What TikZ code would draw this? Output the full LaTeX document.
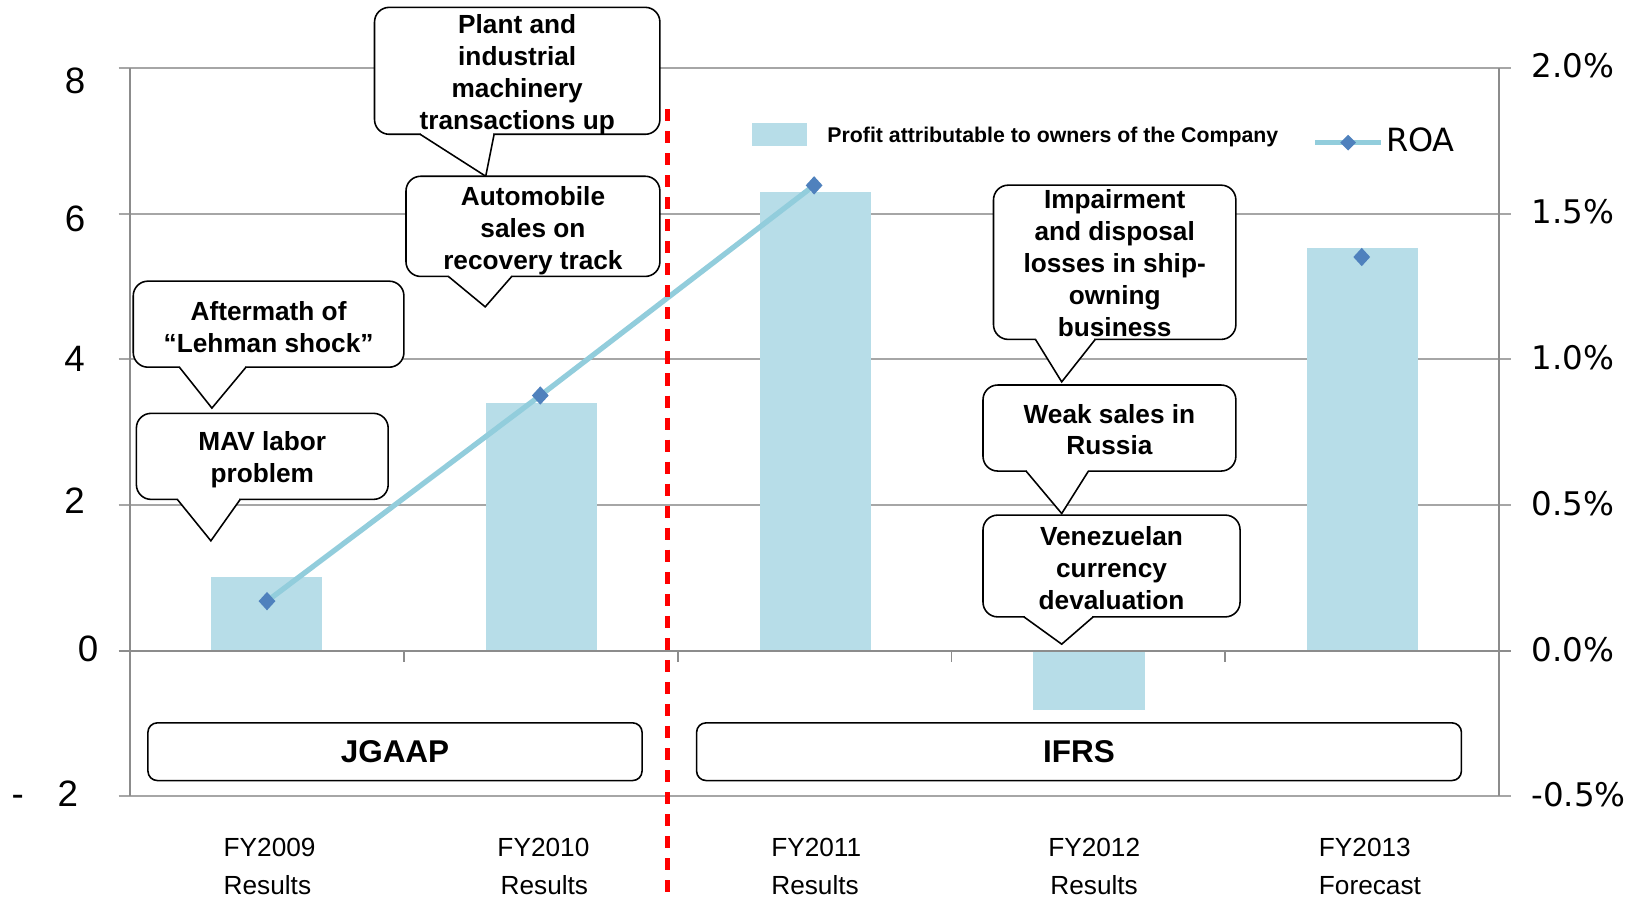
\documentclass[tikz,border=0pt]{standalone}
\usepackage{fontspec}
\setmainfont{Liberation Sans}
\newfontfamily\dvfont{DejaVu Sans}
\usetikzlibrary{calc,shapes.geometric}
\definecolor{barblue}{HTML}{B7DDE8}
\definecolor{roaline}{HTML}{92CDDC}
\definecolor{roamark}{HTML}{4F81BD}
\definecolor{gridgray}{HTML}{A6A6A6}
\definecolor{axisgray}{HTML}{8C8C8C}
\definecolor{dashred}{HTML}{FF0000}
\newcommand{\mycalloutptr}[4]{%
  \fill[white] ($(#1.south west)+(#2+0.9,-1.6)$) rectangle ($(#1.south west)+(#3-0.9,0.9)$);
  \fill[white] ($(#1.south west)+(#2,0)$) -- (#4) -- ($(#1.south west)+(#3,0)$) -- cycle;
  \draw[pointer] ($(#1.south west)+(#2,0)$) -- (#4) -- ($(#1.south west)+(#3,0)$);
}
\begin{document}
\begin{tikzpicture}[x=1pt,y=-1pt,
  gridline/.style={draw=gridgray, line width=1.8pt},
  axisline/.style={draw=axisgray, line width=1.8pt},
  callout/.style={draw=black, line width=1.5pt, fill=white, rounded corners=14pt, inner sep=0pt, outer sep=0pt},
  callouttext/.style={inner sep=0pt, align=center, font=\fontsize{25}{30.4}\selectfont\bfseries},
  pointer/.style={draw=black, line width=1.5pt, line join=miter},
  regime/.style={draw=black, line width=1.5pt, fill=white, rounded corners=9pt, inner sep=0pt, outer sep=0pt, font=\fontsize{30}{36}\selectfont\bfseries},
  roa/.style={draw=roaline, line width=5pt},
  roamarker/.style={diamond, fill=roamark, minimum width=16pt, minimum height=17.5pt, inner sep=0pt, outer sep=0pt},
  leftlab/.style={anchor=base, inner sep=0pt, font=\fontsize{35}{40}\selectfont},
  rightlab/.style={anchor=base west, inner sep=0pt, font=\dvfont\fontsize{31}{36}\selectfont},
  catlab/.style={anchor=base west, inner sep=0pt, font=\fontsize{25}{30}\selectfont},
  reddash/.style={draw=dashred, line width=4.5pt, dash pattern=on 11.5pt off 9.5pt}
]
\useasboundingbox (0,0) rectangle (1568,859);

% gridlines
\foreach \yy in {65,203.8,342.6,481.4,759}
  \draw[gridline] (113,\yy) -- (1440,\yy);

% bars
\fill[barblue] (201.5,549.7) rectangle (306.5,620.2);
\fill[barblue] (463,384) rectangle (569,620.2);
\fill[barblue] (724,182.7) rectangle (830,620.2);
\fill[barblue] (985,620.2) rectangle (1091,676.8);
\fill[barblue] (1246,236.7) rectangle (1352,620.2);

% axes
\draw[axisline] (124,65) -- (124,759);
\draw[axisline] (1429,65) -- (1429,759);
\draw[axisline] (113,620.2) -- (1440,620.2);
\foreach \xx in {385.5,646,907,1168}
  \draw[axisline] (\xx,620.2) -- (\xx,631);

% axis labels (left)
\node[leftlab] (l8) at (71.5,89) {8};
\node[leftlab] (l6) at (71.5,221) {6};
\node[leftlab] (l4) at (71,354) {4};
\node[leftlab] (l2) at (71,489) {2};
\node[leftlab] (l0) at (84,631) {0};
\node[leftlab, anchor=base west] (lm2) at (11,769) {-\hspace{32pt}2};

% axis labels (right)
\node[rightlab] (r20) at (1459.5,73.5) {2.0\%};
\node[rightlab] (r15) at (1459.5,213.5) {1.5\%};
\node[rightlab] (r10) at (1459.5,352.5) {1.0\%};
\node[rightlab] (r05) at (1459.5,491.5) {0.5\%};
\node[rightlab] (r00) at (1459.5,631) {0.0\%};
\node[rightlab] (rm05) at (1459.5,769) {-0.5\%};

% category labels
\node[catlab] (c09a) at (213,816) {FY2009};
\node[catlab] (c09b) at (213,853) {Results};
\node[catlab] (c10a) at (474,816) {FY2010};
\node[catlab] (c10b) at (477,853) {Results};
\node[catlab] (c11a) at (735,816) {FY2011};
\node[catlab] (c11b) at (735,853) {Results};
\node[catlab] (c12a) at (999,816) {FY2012};
\node[catlab] (c12b) at (1001,853) {Results};
\node[catlab] (c13a) at (1257,816) {FY2013};
\node[catlab] (c13b) at (1257,853) {Forecast};

% ROA series
\coordinate (p09) at (254.5,573);
\coordinate (p10) at (515,377);
\coordinate (p11) at (776,176.7);
\coordinate (p13) at (1298,245);
\draw[roa] (p09) -- (p10) -- (p11);
\node[roamarker] (m09) at (p09) {};
\node[roamarker] (m10) at (p10) {};
\node[roamarker] (m11) at (p11) {};
\node[roamarker] (m13) at (p13) {};

% red dashed separator
\coordinate (sepTop) at (636.5,104);
\coordinate (sepBot) at (636.5,859);
\draw[reddash] (sepTop) -- (sepBot);

% callouts
\node[callout, minimum width=272pt, minimum height=121pt] (plant) at (493,67.5) {};
\coordinate (tplant) at (463,168);
\mycalloutptr{plant}{43.5}{114}{tplant}
\node[callouttext] (plantT) at ($(plant)+(0,4)$) {Plant and\\industrial\\machinery\\transactions up};

\node[callout, minimum width=242pt, minimum height=95.5pt] (auto) at (508,215.75) {};
\coordinate (tauto) at (462.5,292.5);
\mycalloutptr{auto}{40.4}{100.8}{tauto}
\node[callouttext] (autoT) at ($(auto)+(0,4)$) {Automobile\\sales on\\recovery track};

\node[callout, minimum width=258pt, minimum height=82pt] (after) at (256,309) {};
\coordinate (tafter) at (202,389);
\mycalloutptr{after}{44}{107.5}{tafter}
\node[callouttext] (afterT) at ($(after)+(0,2.5)$) {Aftermath of\\“Lehman shock”};

\node[callout, minimum width=240pt, minimum height=82pt] (mav) at (250,435) {};
\coordinate (tmav) at (201,515.5);
\mycalloutptr{mav}{39}{99}{tmav}
\node[callouttext] (mavT) at ($(mav)+(0,3.5)$) {MAV labor\\problem};

\node[callout, minimum width=231pt, minimum height=147pt] (imp) at (1062.5,250) {};
\coordinate (timp) at (1012,364);
\mycalloutptr{imp}{40}{97}{timp}
\node[callouttext] (impT) at ($(imp)+(0,1)$) {Impairment\\and disposal\\losses in ship-\\owning\\business};

\node[callout, minimum width=241pt, minimum height=82pt] (weak) at (1057.5,408) {};
\coordinate (tweak) at (1012,489.5);
\mycalloutptr{weak}{41}{100.5}{tweak}
\node[callouttext] (weakT) at ($(weak)+(0,1.5)$) {Weak sales in\\Russia};

\node[callout, minimum width=245pt, minimum height=97pt] (ven) at (1059.5,539.5) {};
\coordinate (tven) at (1012,614);
\mycalloutptr{ven}{39}{105}{tven}
\node[callouttext] (venT) at ($(ven)+(0,2)$) {Venezuelan\\currency\\devaluation};

% accounting regimes
\node[regime, minimum width=471pt, minimum height=55pt] (jgaap) at (376.5,716.5) {\raisebox{-1pt}{JGAAP}};
\node[regime, minimum width=729pt, minimum height=55pt] (ifrs) at (1028.5,716.5) {\raisebox{-1pt}{IFRS}};

% legend
\node[fill=barblue, minimum width=52pt, minimum height=21.5pt, inner sep=0pt] (legswatch) at (743,128.2) {};
\node[anchor=base west, inner sep=0pt, font=\fontsize{20.3}{24}\selectfont\bfseries] (legtext) at (788.5,136) {Profit attributable to owners of the Company};
\coordinate (roaL) at (1253.6,135.7);
\coordinate (roaR) at (1316.6,135.7);
\draw[roa] (roaL) -- (roaR);
\node[roamarker, minimum width=15pt, minimum height=15pt] (legmark) at (1285,136) {};
\node[anchor=base west, inner sep=0pt, font=\dvfont\fontsize{30.5}{35}\selectfont] (legroa) at (1321,144.6) {ROA};
\end{tikzpicture}
\end{document}
